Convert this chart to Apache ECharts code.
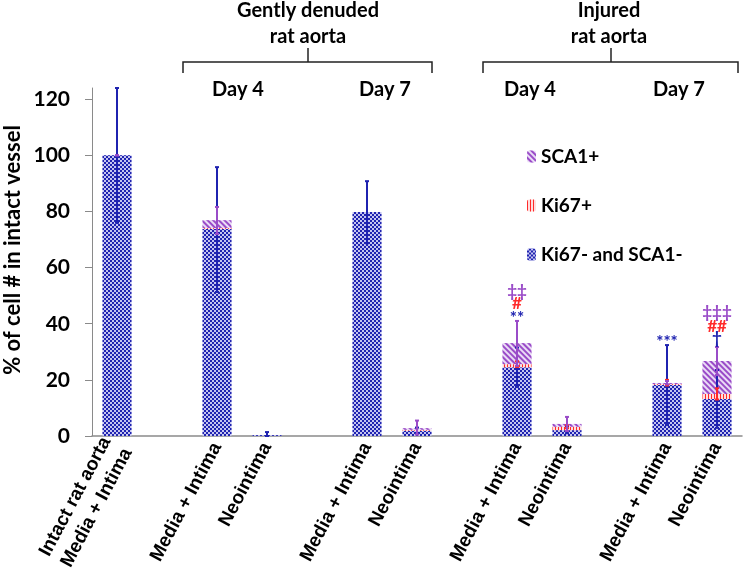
<!DOCTYPE html>
<html>
<head>
<meta charset="utf-8">
<script src="https://cdn.jsdelivr.net/npm/echarts@6/dist/echarts.min.js"></script>
<style>html,body{margin:0;padding:0;background:#fff}#c{width:744px;height:570px}</style>
</head>
<body>
<div id="c"></div>
<script>
const categories = ['Intact rat aorta\nMedia + Intima', '', 'Media + Intima', 'Neointima', '', 'Media + Intima', 'Neointima', '', 'Media + Intima', 'Neointima', '', 'Media + Intima', 'Neointima'];
const negValues  = [100, null, 73.8, 0.3, null, 79.8, 1.9, null, 24.5, 2.1, null, 18.2, 13.2];
const ki67Values = [0,   null, 0.3,  0,   null, 0,    0.3, null, 1.1,  1.2, null, 0.3,  1.8];
const sca1Values = [0,   null, 2.8,  0,   null, 0,    0.6, null, 7.5,  1.0, null, 0.4,  11.7];
// error bars: [category index, low, high]
const negErr  = [[0, 76, 124], [2, 51.3, 95.8], [3, 0, 1.4], [5, 68.7, 90.8], [6, 0.8, 3], [8, 17.5, 31.5], [9, 1, 3.5], [11, 3.9, 32.4], [12, 2.9, 23.5]];
const ki67Err = [[8, 24.6, 26.6], [9, 2.8, 3.8], [11, 18, 20], [12, 13, 17]];
const sca1Err = [[0, 100, 100], [2, 72, 81.6], [6, 0.5, 5.5], [8, 25, 41], [9, 1.8, 6.8], [11, 18.4, 19.6], [12, 21.7, 31.7]];
// significance marks: [category index, y value, text]
const sca1Marks = [[8, 51.5, '‡‡'], [12, 44.0, '‡‡‡']];
const ki67Marks = [[8, 47.2, '#'], [12, 39.0, '##']];
const negMarks  = [[8, 42.0, '**'], [11, 33.4, '***'], [12, 34.8, '†']];
const yTicks = [0, 20, 40, 60, 80, 100, 120];
const seriesNames = ['Ki67- and SCA1-', 'Ki67+', 'SCA1+'];

const BLUE = '#1f23b0', RED = '#ff2a2a', PURPLE = '#9a4cc8';
const FONT = 'Lato';

function errRender(color) {
  return function (params, api) {
    const x = api.value(0);
    const lo = api.coord([x, api.value(1)]);
    const hi = api.coord([x, api.value(2)]);
    const cap = 2;
    const st = { stroke: color, lineWidth: 2 };
    return {
      type: 'group',
      children: [
        { type: 'line', shape: { x1: lo[0], y1: lo[1], x2: hi[0], y2: hi[1] }, style: st },
        { type: 'line', shape: { x1: hi[0] - cap, y1: hi[1], x2: hi[0] + cap, y2: hi[1] }, style: st },
        { type: 'line', shape: { x1: lo[0] - cap, y1: lo[1], x2: lo[0] + cap, y2: lo[1] }, style: st }
      ]
    };
  };
}
function markRender(color, marks) {
  return function (params, api) {
    const p = api.coord([api.value(0), api.value(1)]);
    return {
      type: 'text',
      x: p[0], y: p[1],
      style: { text: marks[params.dataIndex][2], fill: color, font: 'bold 17px ' + FONT, align: 'center', verticalAlign: 'middle' }
    };
  };
}

const chart = echarts.init(document.getElementById('c'), null, { renderer: 'canvas' });
const option = {
  animation: false,
  grid: { left: 92, right: 2, top: 88, bottom: 134, outerBoundsMode: 'none', containLabel: false },
  legend: {
    data: ['SCA1+', 'Ki67+', 'Ki67- and SCA1-'],
    orient: 'vertical', left: 522, top: 142,
    itemWidth: 9, itemHeight: 12, itemGap: 30,
    textStyle: { fontFamily: FONT, fontWeight: 'bold', fontSize: 19, color: '#000' }
  },
  xAxis: {
    type: 'category', data: categories,
    axisLine: { lineStyle: { color: '#8a8a8a', width: 1.5 } },
    axisTick: { show: false },
    axisLabel: { interval: 0, rotate: 62, margin: 8, fontFamily: 'Liberation Sans', fontWeight: 'bold', fontSize: 19, color: '#000', lineHeight: 24 }
  },
  yAxis: {
    type: 'value', min: 0, max: 124,
    axisLine: { show: true, lineStyle: { color: '#8a8a8a', width: 1 } },
    axisTick: { show: true, length: 7, customValues: yTicks, lineStyle: { color: '#8a8a8a' } },
    axisLabel: { customValues: yTicks, margin: 22, fontFamily: FONT, fontWeight: 'bold', fontSize: 21, color: '#000' },
    splitLine: { show: false }
  },
  series: [
    {
      name: seriesNames[0], type: 'bar', stack: 's', barWidth: 29, data: negValues,
      itemStyle: { color: '#c4c4f0', decal: { symbol: 'rect', symbolSize: 1, color: BLUE, dashArrayX: [[2, 2], [0, 2, 2, 0]], dashArrayY: [2, 0] } }
    },
    {
      name: seriesNames[1], type: 'bar', stack: 's', barWidth: 29, data: ki67Values,
      itemStyle: { color: '#ffdede', decal: { symbol: 'rect', symbolSize: 1, color: RED, dashArrayX: [1, 1.5], dashArrayY: [1, 0] } }
    },
    {
      name: seriesNames[2], type: 'bar', stack: 's', barWidth: 29, data: sca1Values,
      itemStyle: { color: '#eadcf6', decal: { symbol: 'rect', symbolSize: 1, color: PURPLE, dashArrayX: [1, 0], dashArrayY: [1.5, 2], rotation: Math.PI / 4 } }
    },
    { type: 'custom', renderItem: errRender(BLUE), data: negErr, z: 5, silent: true, encode: { x: 0, y: [1, 2] } },
    { type: 'custom', renderItem: errRender(RED), data: ki67Err, z: 6, silent: true, encode: { x: 0, y: [1, 2] } },
    { type: 'custom', renderItem: errRender(PURPLE), data: sca1Err, z: 7, silent: true, encode: { x: 0, y: [1, 2] } },
    { type: 'custom', renderItem: markRender(PURPLE, sca1Marks), data: sca1Marks.map(m => [m[0], m[1]]), z: 8, silent: true, encode: { x: 0, y: 1 } },
    { type: 'custom', renderItem: markRender(RED, ki67Marks), data: ki67Marks.map(m => [m[0], m[1]]), z: 8, silent: true, encode: { x: 0, y: 1 } },
    { type: 'custom', renderItem: markRender(BLUE, negMarks), data: negMarks.map(m => [m[0], m[1]]), z: 8, silent: true, encode: { x: 0, y: 1 } }
  ],
  graphic: [
    { type: 'text', x: 13, y: 250, rotation: Math.PI / 2, style: { text: '% of cell # in intact vessel', font: 'bold 22px ' + FONT, fill: '#000', align: 'center', verticalAlign: 'middle' } },
    { type: 'text', x: 308, y: 11, style: { text: 'Gently denuded', font: 'bold 20px ' + FONT, fill: '#000', align: 'center', verticalAlign: 'middle' } },
    { type: 'text', x: 308, y: 37, style: { text: 'rat aorta', font: 'bold 20px ' + FONT, fill: '#000', align: 'center', verticalAlign: 'middle' } },
    { type: 'text', x: 609, y: 11, style: { text: 'Injured', font: 'bold 20px ' + FONT, fill: '#000', align: 'center', verticalAlign: 'middle' } },
    { type: 'text', x: 609, y: 37, style: { text: 'rat aorta', font: 'bold 20px ' + FONT, fill: '#000', align: 'center', verticalAlign: 'middle' } },
    { type: 'text', x: 238, y: 90, style: { text: 'Day 4', font: 'bold 20px ' + FONT, fill: '#000', align: 'center', verticalAlign: 'middle' } },
    { type: 'text', x: 385, y: 90, style: { text: 'Day 7', font: 'bold 20px ' + FONT, fill: '#000', align: 'center', verticalAlign: 'middle' } },
    { type: 'text', x: 530, y: 90, style: { text: 'Day 4', font: 'bold 20px ' + FONT, fill: '#000', align: 'center', verticalAlign: 'middle' } },
    { type: 'text', x: 679, y: 90, style: { text: 'Day 7', font: 'bold 20px ' + FONT, fill: '#000', align: 'center', verticalAlign: 'middle' } },
    { type: 'polyline', shape: { points: [[183, 73], [183, 62], [432, 62], [432, 73]] }, style: { stroke: '#222', lineWidth: 1.5, fill: null } },
    { type: 'line', shape: { x1: 308, y1: 48, x2: 308, y2: 62 }, style: { stroke: '#222', lineWidth: 1.5 } },
    { type: 'polyline', shape: { points: [[483, 73], [483, 62], [738, 62], [738, 73]] }, style: { stroke: '#222', lineWidth: 1.5, fill: null } },
    { type: 'line', shape: { x1: 611, y1: 48, x2: 611, y2: 62 }, style: { stroke: '#222', lineWidth: 1.5 } }
  ]
};
chart.setOption(option);
</script>
</body>
</html>
